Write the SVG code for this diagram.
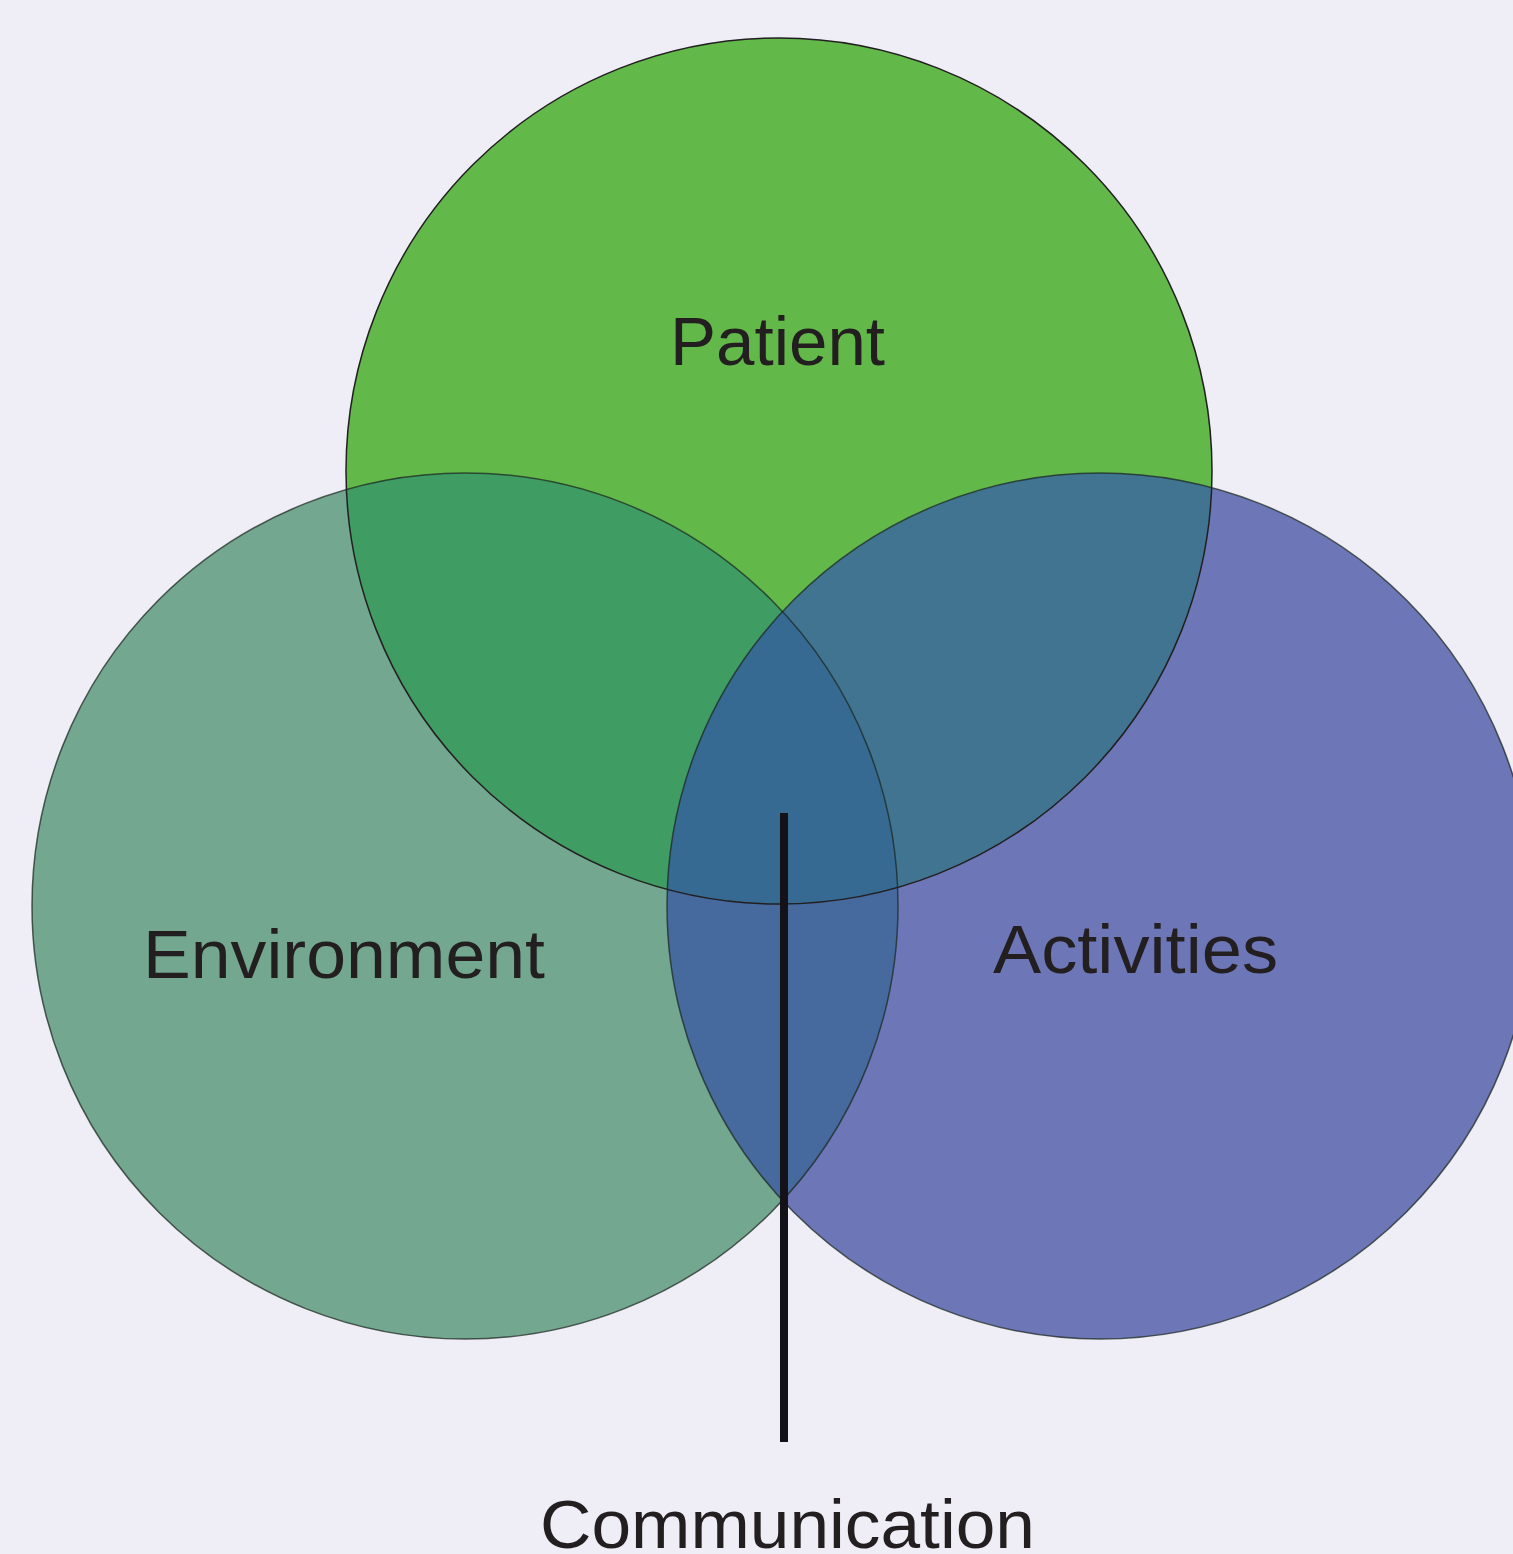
<svg xmlns="http://www.w3.org/2000/svg" width="1513" height="1554" viewBox="0 0 1513 1554">
<style>
.lbl{font-family:"Liberation Sans",Arial,sans-serif;font-size:68px;fill:#231f20;}
.ring{fill:none;stroke:#1e2a22;stroke-opacity:0.75;stroke-width:1.5;}
</style>
<defs>
<clipPath id="cP"><circle cx="779" cy="471" r="433"/></clipPath>
<clipPath id="cE"><circle cx="465" cy="906" r="433"/></clipPath>
<clipPath id="cA"><circle cx="1100" cy="906" r="433"/></clipPath>
</defs>
<rect width="1513" height="1554" fill="#efeef7"/>
<g id="patient">
<circle cx="779" cy="471" r="433" fill="#62b94a"/>
</g>
<g id="environment">
<circle cx="465" cy="906" r="433" fill="#73a78f"/>
<circle cx="465" cy="906" r="433" fill="#3f9c62" clip-path="url(#cP)"/>
</g>
<g id="activities">
<circle cx="1100" cy="906" r="433" fill="#6d77b7"/>
<circle cx="1100" cy="906" r="433" fill="#417491" clip-path="url(#cP)"/>
<g clip-path="url(#cE)">
<circle cx="1100" cy="906" r="433" fill="#46699e"/>
<circle cx="1100" cy="906" r="433" fill="#376a93" clip-path="url(#cP)"/>
</g>
</g>
<g id="outlines">
<circle class="ring" cx="779" cy="471" r="433" style="stroke:#231f20;stroke-opacity:1"/>
<circle class="ring" cx="465" cy="906" r="433"/>
<circle class="ring" cx="1100" cy="906" r="433"/>
</g>
<g id="connectors">
<line x1="784" y1="813" x2="784" y2="1442" stroke="#141218" stroke-width="8"/>
</g>
<g id="labels">
<text class="lbl" x="670" y="365" textLength="215" lengthAdjust="spacingAndGlyphs">Patient</text>
<text class="lbl" x="143" y="978" textLength="402" lengthAdjust="spacingAndGlyphs">Environment</text>
<text class="lbl" x="993" y="973" textLength="285" lengthAdjust="spacingAndGlyphs">Activities</text>
<text class="lbl" x="540" y="1548" textLength="495" lengthAdjust="spacingAndGlyphs">Communication</text>
</g>
</svg>
